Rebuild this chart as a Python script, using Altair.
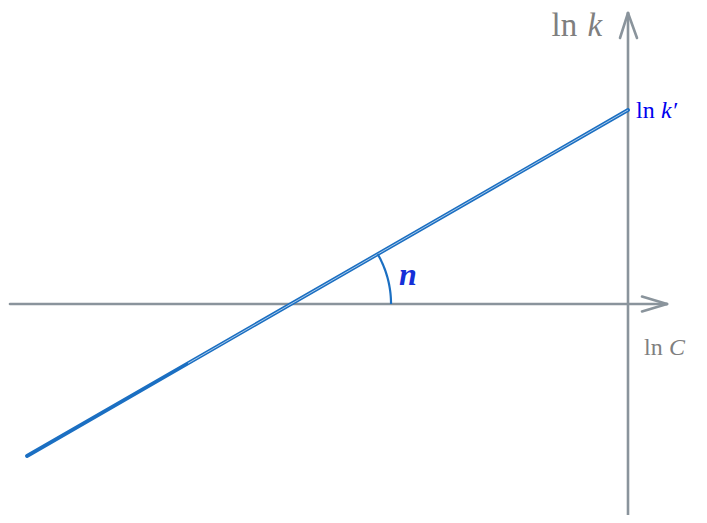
import altair as alt
import numpy as np
import pandas as pd

# ---- data (units: ln C on x, ln k on y) ----
line_lnC = [-6.01, 0.0]
line_lnk = [-1.52, 1.94]
double_start_lnC = -4.40
h_axis_x = [-6.18, 0.39]
v_axis_y = [-2.11, 2.91]

slope_n = (line_lnk[1] - line_lnk[0]) / (line_lnC[1] - line_lnC[0])
intercept = line_lnk[1]
x_int = -intercept / slope_n

W, H = 691, 507
xdom = [-6.20, 0.71]
ydom = [2.96 - H / 100.0, 2.96]

xs = alt.Scale(domain=xdom, nice=False, zero=False)
ys = alt.Scale(domain=ydom, nice=False, zero=False)

GRAY = "#8a949c"
BLUE = "#1b6fc2"

def seg_df(rows):
    return pd.DataFrame(rows, columns=["x", "y", "x2", "y2"])

axes_df = seg_df([
    [h_axis_x[0], 0, h_axis_x[1], 0],
    [0, v_axis_y[0], 0, v_axis_y[1]],
    [h_axis_x[1], 0, h_axis_x[1] - 0.25, 0.075],
    [h_axis_x[1], 0, h_axis_x[1] - 0.25, -0.075],
    [0, v_axis_y[1], -0.08, v_axis_y[1] - 0.25],
    [0, v_axis_y[1], 0.09, v_axis_y[1] - 0.25],
])

def rule_layer(df, color, width):
    return alt.Chart(df).mark_rule(color=color, strokeWidth=width, strokeCap="round").encode(
        x=alt.X("x:Q", scale=xs, axis=None),
        y=alt.Y("y:Q", scale=ys, axis=None),
        x2="x2:Q", y2="y2:Q",
    )

axes = rule_layer(axes_df, GRAY, 2.6)

main_line = rule_layer(seg_df([[line_lnC[0], line_lnk[0], line_lnC[1], line_lnk[1]]]), BLUE, 3.8)
ys0 = intercept + slope_n * double_start_lnC
white_line = alt.Chart(seg_df([[double_start_lnC, ys0, line_lnC[1], line_lnk[1]]])).mark_rule(
    color="white", strokeWidth=0.7, opacity=0.9
).encode(
    x=alt.X("x:Q", scale=xs, axis=None), y=alt.Y("y:Q", scale=ys, axis=None), x2="x2:Q", y2="y2:Q"
)

theta = np.linspace(0, np.arctan(slope_n), 30)
arc_df = pd.DataFrame({"x": x_int + np.cos(theta), "y": np.sin(theta), "o": np.arange(30)})
arc = alt.Chart(arc_df).mark_line(color=BLUE, strokeWidth=2.2).encode(
    x=alt.X("x:Q", scale=xs, axis=None), y=alt.Y("y:Q", scale=ys, axis=None), order="o:Q"
)

def txt(x, y, s, color, size, style="normal", weight="normal", align="left"):
    return alt.Chart(pd.DataFrame({"x": [x], "y": [y], "t": [s]})).mark_text(
        font="Liberation Serif", fontSize=size, fontStyle=style, fontWeight=weight,
        color=color, align=align, baseline="alphabetic"
    ).encode(x=alt.X("x:Q", scale=xs, axis=None), y=alt.Y("y:Q", scale=ys, axis=None), text="t:N")

labels = [
    txt(-0.765, 2.685, "ln", "#7f7f7f", 33),
    txt(-0.405, 2.685, "k", "#7f7f7f", 33, style="italic"),
    txt(0.08, 1.86, "ln", "#0000ee", 24),
    txt(0.33, 1.86, "k′", "#0000ee", 24, style="italic"),
    txt(0.16, -0.51, "ln", "#7f7f7f", 24),
    txt(0.41, -0.51, "C", "#7f7f7f", 24, style="italic"),
    txt(x_int + 1.08, 0.19, "n", "#1530d8", 32, style="italic", weight="bold"),
]

chart = alt.layer(axes, main_line, white_line, arc, *labels).properties(
    width=W, height=H, padding=0, autosize=alt.AutoSizeParams(type="none")
).configure_view(stroke=None)

chart.save("out.html", embed_options={"renderer": "svg", "actions": False})
